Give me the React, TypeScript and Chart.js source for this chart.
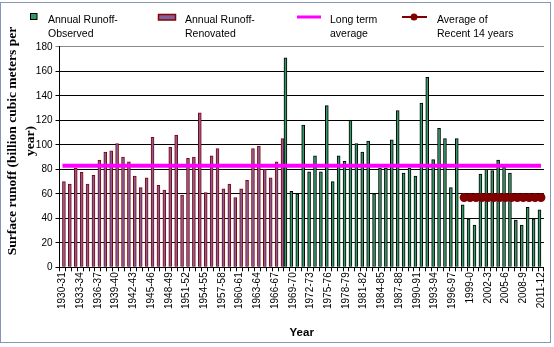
import React, { useEffect, useRef } from 'react';
import { Chart, registerables } from 'chart.js';

Chart.register(...registerables);

const years: string[] = [
  '1930-31', '1931-32', '1932-33', '1933-34', '1934-35', '1935-36', '1936-37', '1937-38', '1938-39', '1939-40',
  '1940-41', '1941-42', '1942-43', '1943-44', '1944-45', '1945-46', '1946-47', '1947-48', '1948-49', '1949-50',
  '1950-51', '1951-52', '1952-53', '1953-54', '1954-55', '1955-56', '1956-57', '1957-58', '1958-59', '1959-60',
  '1960-61', '1961-62', '1962-63', '1963-64', '1964-65', '1965-66', '1966-67', '1967-68', '1968-69', '1969-70',
  '1970-71', '1971-72', '1972-73', '1973-74', '1974-75', '1975-76', '1976-77', '1977-78', '1978-79', '1979-80',
  '1980-81', '1981-82', '1982-83', '1983-84', '1984-85', '1985-86', '1986-87', '1987-88', '1988-89', '1989-90',
  '1990-91', '1991-92', '1992-93', '1993-94', '1994-95', '1995-96', '1996-97', '1997-98', '1998-99', '1999-0',
  '2000-1', '2001-2', '2002-3', '2003-4', '2004-5', '2005-6', '2006-7', '2007-8', '2008-9', '2009-10',
  '2010-11', '2011-12',
];

// Annual runoff - renovated (1930-31 .. 1967-68)
const renovated: number[] = [
  70, 68, 81, 77.5, 68, 75, 87.5, 94, 95, 101,
  90, 86, 74.5, 65, 73, 106, 67, 63, 98, 108,
  59, 89, 90, 126, 61, 91, 97, 64, 68, 57,
  64, 71, 97, 99, 80, 73, 86, 105,
];

// Annual runoff - observed (1968-69 .. 2011-12)
const observed: number[] = [
  171, 62, 60, 116, 78, 91, 78, 132, 70, 91,
  86.5, 120, 101, 94, 103, 60, 81, 81, 104, 128,
  77, 81, 74.5, 134, 155, 88, 113.5, 105, 65, 105,
  51, 39.5, 34.5, 76, 80, 79, 87.5, 82, 77, 38.5,
  34.5, 49, 39.5, 47,
];

const longTermAverage = 83;
const recentAverage = 57;
const recentYears = 14;

const yTicks = { min: 0, max: 180, step: 20 };
const yTitleLines = ['Surface runoff (billion cubic meters per', 'year)'];

const legendPlugin = {
  id: 'customLegend',
  beforeDraw(chart: any) {
    const ctx = chart.ctx;
    ctx.save();
    ctx.fillStyle = '#ffffff';
    ctx.fillRect(0, 0, chart.width, chart.height);
    ctx.restore();
  },
  afterDraw(chart: any) {
    const ctx = chart.ctx;
    ctx.save();
    // frame
    ctx.strokeStyle = '#8497B8';
    ctx.lineWidth = 1;
    ctx.strokeRect(0.5, 2.5, 550, 340);

    // y axis title (two centred lines)
    ctx.save();
    ctx.font = 'bold 13.5px "Liberation Serif", "Times New Roman", serif';
    ctx.fillStyle = '#000';
    ctx.textAlign = 'center';
    ctx.textBaseline = 'middle';
    ctx.translate(13, 141);
    ctx.rotate(-Math.PI / 2);
    ctx.fillText(yTitleLines[0], 0, 0);
    ctx.fillText(yTitleLines[1], 0, 18);
    ctx.restore();

    ctx.font = '10.5px "Liberation Sans", Arial, sans-serif';
    ctx.fillStyle = '#000';
    ctx.textBaseline = 'middle';
    ctx.textAlign = 'left';

    // item 1: observed
    ctx.fillStyle = '#339966';
    ctx.fillRect(30, 13.5, 7, 6);
    ctx.strokeStyle = '#000';
    ctx.strokeRect(30.5, 13.5, 6.5, 6);
    ctx.fillStyle = '#000';
    ctx.fillText('Annual Runoff-', 48, 20);
    ctx.fillText('Observed', 48, 34);

    // item 2: renovated
    ctx.fillStyle = '#7E62A0';
    ctx.fillRect(158, 14, 18, 6);
    ctx.strokeStyle = '#8B0000';
    ctx.lineWidth = 1.5;
    ctx.strokeRect(158.5, 14.5, 17, 5.5);
    ctx.fillStyle = '#000';
    ctx.fillText('Annual Runoff-', 185, 20);
    ctx.fillText('Renovated', 185, 34);

    // item 3: long term average
    ctx.strokeStyle = '#FF00FF';
    ctx.lineWidth = 3;
    ctx.beginPath();
    ctx.moveTo(297, 17);
    ctx.lineTo(321, 17);
    ctx.stroke();
    ctx.fillText('Long term', 330, 20);
    ctx.fillText('average', 330, 34);

    // item 4: recent average
    ctx.strokeStyle = '#800000';
    ctx.lineWidth = 2;
    ctx.beginPath();
    ctx.moveTo(402, 17);
    ctx.lineTo(427, 17);
    ctx.stroke();
    ctx.fillStyle = '#800000';
    ctx.beginPath();
    ctx.arc(414, 17, 3.5, 0, Math.PI * 2);
    ctx.fill();
    ctx.fillStyle = '#000';
    ctx.fillText('Average of', 437, 20);
    ctx.fillText('Recent 14 years', 437, 34);
    ctx.restore();
  },
};

export default function App() {
  const canvasRef = useRef<HTMLCanvasElement | null>(null);

  useEffect(() => {
    const canvas = canvasRef.current;
    if (!canvas) return;
    const n = years.length;
    const renovatedData = years.map((_, i) => (i < renovated.length ? renovated[i] : null));
    const observedStart = n - observed.length;
    const observedData = years.map((_, i) => (i >= observedStart ? observed[i - observedStart] : null));
    const longData = years.map(() => longTermAverage);
    const recentData = years.map((_, i) => (i >= n - recentYears ? recentAverage : null));

    const chart = new Chart(canvas, {
      type: 'bar',
      data: {
        labels: years,
        datasets: [
          {
            type: 'bar',
            label: 'Annual Runoff-Observed',
            data: observedData,
            backgroundColor: '#339966',
            borderColor: '#000000',
            borderWidth: 1,
            categoryPercentage: 1,
            barPercentage: 1,
            order: 3,
          },
          {
            type: 'bar',
            label: 'Annual Runoff-Renovated',
            data: renovatedData,
            backgroundColor: '#7E62A0',
            borderColor: '#8B0000',
            borderWidth: 1,
            categoryPercentage: 1,
            barPercentage: 1,
            order: 3,
          },
          {
            type: 'line',
            label: 'Long term average',
            data: longData,
            borderColor: '#FF00FF',
            borderWidth: 4,
            pointRadius: 0,
            order: 2,
          },
          {
            type: 'line',
            label: 'Average of Recent 14 years',
            data: recentData,
            borderColor: '#800000',
            backgroundColor: '#800000',
            borderWidth: 2,
            pointRadius: 3.5,
            pointBackgroundColor: '#800000',
            pointBorderColor: '#800000',
            order: 1,
          },
        ] as any,
      },
      options: {
        responsive: false,
        animation: false,
        events: [],
        layout: { padding: { top: 46.8, right: 7.5, left: 0, bottom: 0 } },
        plugins: {
          legend: { display: false },
          tooltip: { enabled: false },
        },
        scales: {
          x: {
            afterFit: (s: any) => { s.height = 347 - 267.3; },
            grid: {
              drawOnChartArea: false,
              drawTicks: true,
              tickLength: 4,
              color: '#000',
              offset: true,
            },
            border: { display: true, color: '#000', width: 1 },
            ticks: {
              autoSkip: false,
              maxRotation: 90,
              minRotation: 90,
              padding: 1,
              color: '#000',
              font: { family: '"Liberation Sans", Arial, sans-serif', size: 10 },
              callback: function (this: any, _v: any, index: number) {
                return index % 3 === 0 ? years[index] : '';
              },
            },
            title: {
              display: true,
              text: 'Year',
              color: '#000',
              font: { family: '"Liberation Sans", Arial, sans-serif', size: 11.5, weight: 'bold' },
              padding: { top: 0, bottom: 7 },
            },
          },
          y: {
            min: yTicks.min,
            max: yTicks.max,
            afterFit: (s: any) => { s.width = 59.5; },
            grid: {
              color: (c: any) => (c.tick && c.tick.value === yTicks.max ? '#888' : '#000'),
              lineWidth: 1,
              tickLength: 4,
            },
            border: { display: true, color: '#000', width: 1 },
            ticks: {
              stepSize: yTicks.step,
              padding: 3,
              color: '#000',
              font: { family: '"Liberation Sans", Arial, sans-serif', size: 10 },
            },
            title: { display: false },
          },
        },
      } as any,
      plugins: [legendPlugin],
    });
    return () => chart.destroy();
  }, []);

  return (
    <div style={{ position: 'fixed', left: 0, top: 0, width: 554, height: 347, background: '#fff' }}>
      <canvas ref={canvasRef} width={554} height={347} style={{ display: 'block', width: 554, height: 347 }} />
    </div>
  );
}
